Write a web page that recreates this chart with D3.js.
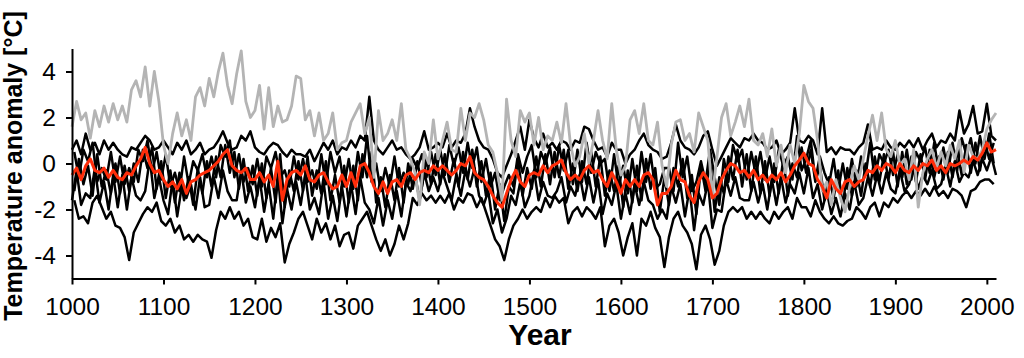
<!DOCTYPE html>
<html><head><meta charset="utf-8">
<script src="https://cdn.jsdelivr.net/npm/d3@7"></script>
<style>body{margin:0;background:#fff}svg{display:block}</style>
</head><body><svg id="c" width="1024" height="358"></svg>
<script>
// x categories: 5-year steps; two sampling grids (on the 5s and half-way between)
const yearsMain = d3.range(1000, 2011, 5);     // 1000 .. 2010
const yearsOffset = d3.range(1002.5, 2010, 5); // 1002.5 .. 2007.5
const yTicks = [-4, -2, 0, 2, 4];
const xTicks = [1000, 1100, 1200, 1300, 1400, 1500, 1600, 1700, 1800, 1900, 2000];

const grey = [
1.6,2.7,1.9,2.2,1.1,2.3,1.6,2.5,1.8,2.6,
1.9,2.5,1.8,3.2,3.6,2.9,4.2,2.5,4.0,2.7,
0.8,0.0,1.3,2.2,1.2,1.9,1.0,2.9,3.3,2.5,
3.7,2.9,4.0,4.8,3.4,2.6,3.9,4.9,2.7,2.0,
2.3,3.4,1.5,3.3,1.6,2.5,1.8,1.9,2.5,3.8,
3.7,1.9,2.3,1.2,2.2,1.0,1.3,2.2,0.6,0.9,
1.0,1.8,2.2,2.6,1.3,2.0,-0.6,2.3,1.0,1.3,
1.9,1.0,2.6,0.6,0.2,-0.4,-1.8,0.5,0.0,1.9,
0.2,1.0,1.8,0.6,0.5,2.4,1.0,2.2,2.0,2.6,
1.9,0.8,0.5,-0.4,-1.6,2.8,1.0,0.3,2.3,1.8,
2.2,0.8,2.0,0.6,1.2,1.0,1.8,0.9,2.6,0.8,
-0.1,0.3,1.3,0.0,1.0,2.3,1.0,0.2,2.6,0.6,
-0.5,-0.1,1.9,2.3,1.3,2.6,1.0,0.8,1.8,-0.1,
-1.0,0.8,1.8,1.9,1.0,1.3,0.5,2.2,1.6,1.0,
-1.4,0.3,2.0,2.6,1.2,1.8,2.5,1.6,2.8,1.0,
0.8,1.3,0.3,1.5,-0.1,0.8,-0.4,0.8,0.0,1.3,
3.4,2.7,2.4,1.0,-1.2,-0.8,-1.8,-0.7,-1.5,-2.1,
-1.0,-0.1,-0.7,0.2,1.2,2.1,1.0,2.2,0.6,0.3,
1.0,-0.1,0.2,-0.7,0.6,-1.9,-0.4,0.2,0.6,-0.2,
0.5,-0.1,0.8,0.2,1.0,-0.4,0.8,0.3,0.2,0.6,
1.5,1.9,2.2];

const red = [
-0.5,-0.2,-0.7,-0.1,0.2,-0.3,-0.4,-0.2,-0.6,-0.3,
-0.6,-0.7,-0.4,-0.5,-0.1,0.2,0.7,0.0,-0.4,-0.3,
-0.7,-1.0,-0.8,-1.1,-0.7,-1.3,-0.8,-0.7,-0.5,-0.4,
-0.3,-0.1,0.1,0.4,0.6,-0.1,-0.3,-0.4,-0.2,-0.7,
-0.7,-0.4,-0.8,-0.5,-1.0,0.1,-1.6,-0.7,-0.4,-0.3,
-0.5,-0.1,-0.7,-0.8,-0.5,-0.4,-0.8,-1.1,-1.0,-0.5,
-1.0,-0.4,-1.0,-0.1,0.0,-0.4,-1.0,-1.3,-0.8,-1.3,
-0.8,-0.7,-1.0,-0.5,-0.4,-0.7,-0.4,-0.3,-0.4,-0.1,
-0.3,-0.1,-0.3,-0.5,-0.3,0.0,-0.1,0.3,-0.4,-0.6,
-0.7,-1.0,-1.4,-1.7,-1.9,-1.3,-0.7,-0.3,-0.8,-1.0,
-0.5,-0.4,-0.5,-0.1,-0.4,-0.1,0.0,0.15,-0.4,-0.7,
-0.5,-0.7,-0.3,-0.1,-0.4,-0.3,-0.7,-1.0,-0.4,-0.8,
-1.3,-0.7,-1.0,-0.7,-1.0,-0.5,-0.4,-0.7,-1.8,-1.3,
-1.3,-1.0,-0.3,-0.7,-0.8,-1.4,-1.7,-0.8,-0.4,-0.7,
-1.5,-1.3,-0.7,-0.3,0.0,-0.1,-0.4,-0.3,-0.6,-0.3,
-0.7,-0.5,-0.8,-0.5,-0.7,-0.4,-0.8,-0.5,-0.1,0.15,
0.45,0.0,-0.1,-0.7,-1.0,-1.5,-0.7,-1.1,-1.3,-0.8,
-0.7,-1.0,-0.8,-0.7,-0.3,-0.4,-0.1,-0.3,0.0,-0.1,
-0.4,0.0,-0.3,-0.4,-0.1,-0.3,0.0,-0.1,0.15,-0.3,
-0.1,-0.4,0.0,-0.1,0.0,0.15,0.0,0.3,0.15,0.45,
0.9,0.5,0.6];

// upper black reconstruction (on yearsMain)
const black1 = [
0.6,1.0,0.4,1.3,0.6,0.9,0.4,1.0,0.6,0.9,
0.6,0.4,0.3,0.7,0.6,0.9,1.2,1.0,0.6,0.7,
1.0,0.7,0.4,0.9,0.6,1.0,0.4,0.6,0.9,0.4,
0.6,0.7,1.0,1.4,0.9,0.6,0.7,1.2,1.0,1.4,
0.7,0.5,0.4,0.7,0.9,0.8,0.5,0.3,0.6,0.4,
0.4,0.3,0.6,0.1,0.5,0.9,0.6,1.0,0.4,0.7,
0.6,1.0,0.7,1.2,1.0,2.9,1.0,0.6,0.4,0.7,
1.0,0.6,0.7,0.4,0.2,0.4,0.7,1.4,0.6,0.7,
0.9,0.7,1.3,0.7,1.0,0.9,1.3,2.4,1.6,1.0,
0.7,0.6,0.2,-0.4,-0.6,-0.1,0.4,1.0,1.6,0.6,
1.9,1.1,0.7,1.3,0.7,0.9,0.6,1.0,0.9,0.6,
1.0,0.9,1.6,1.5,1.0,0.6,0.7,0.3,0.9,0.6,
0.6,0.0,0.4,0.6,1.0,1.3,0.8,0.6,0.5,0.2,
0.3,0.9,1.7,1.0,0.7,0.6,0.4,0.7,1.2,1.4,
0.6,-0.1,0.3,0.7,1.1,0.9,0.7,1.1,1.0,1.3,
1.0,0.9,0.6,0.7,1.0,0.4,0.6,0.9,2.4,1.0,
0.9,1.2,1.0,0.4,2.4,0.5,0.7,0.4,0.7,0.6,
0.6,0.4,0.7,0.9,1.7,0.6,0.7,0.6,1.0,0.7,
0.6,0.9,0.7,1.0,0.7,1.1,0.6,1.0,1.3,0.7,
1.0,0.9,1.3,1.0,2.3,1.3,1.7,2.5,1.3,1.4,
2.6,1.2,1.0];

// upper-middle black reconstruction (on yearsOffset)
const black2 = [
0.5,-0.6,0.6,0.1,0.9,-0.8,-0.2,-0.7,0.5,-0.8,
0.3,-0.9,-0.2,-0.8,0.6,0.1,1.0,-0.4,0.5,-0.7,
0.4,-1.0,-0.4,-1.2,0.3,-0.9,0.1,-0.3,0.4,-0.6,
0.3,-0.6,0.8,0.3,1.0,-0.6,0.4,-0.8,-0.2,-0.9,
0.2,-1.0,0.3,-0.2,0.5,-0.6,-0.3,-1.0,0.3,-0.7,
0.2,-0.8,-0.3,-1.1,0.4,-0.9,0.5,-0.4,0.3,-1.0,
0.2,-1.1,0.5,-0.6,1.2,-0.8,0.0,-1.2,-0.2,-1.0,
0.3,-1.0,-0.4,-0.9,0.2,-0.2,0.4,-0.6,0.5,-0.5,
0.6,-0.5,0.8,-0.1,0.7,-0.4,0.9,-0.2,0.7,-0.8,
0.2,-1.0,-0.4,-1.6,-1.0,-0.5,-1.0,0.4,-0.4,0.3,
0.8,-0.6,0.5,0.0,0.7,-0.6,0.8,-0.3,0.6,-0.9,
0.6,-0.8,0.9,-0.4,0.5,0.0,0.2,-1.2,0.4,-1.0,
-0.1,-1.3,0.2,-1.2,0.5,-0.8,0.4,-1.1,-0.9,-0.2,
-0.2,-1.2,0.9,-0.6,0.3,-1.2,-0.8,0.1,-0.8,0.6,
-0.6,-1.8,0.2,-0.8,0.8,0.1,0.6,-0.7,0.5,-0.5,
0.5,-0.7,0.3,-0.8,0.6,-0.1,0.3,-0.7,1.2,-0.3,
0.2,1.0,-0.7,0.3,-0.4,-0.9,0.2,-1.2,0.0,-1.1,
0.2,-1.0,0.3,-0.5,0.9,-0.7,0.4,0.0,0.6,-0.5,
0.4,-0.6,0.6,-0.7,0.5,0.1,0.7,-0.4,0.9,-0.4,
0.7,-0.4,0.9,-0.3,1.1,0.4,1.1,0.0,1.2,0.2,
1.3,0.0];

// lower-middle black reconstruction (on yearsMain)
const black3 = [
-1.6,-0.3,-1.8,-1.3,-1.5,-0.2,-1.7,-0.8,-2.0,-0.5,
-1.9,-0.5,-2.0,-0.6,-1.4,-1.6,-1.2,0.2,-1.5,-0.6,
-1.6,-2.2,-0.7,-2.3,-1.0,-1.5,-0.9,-2.0,-0.6,-1.9,
-1.8,-0.6,-1.5,-0.3,-1.2,-1.6,-1.6,-0.3,-1.7,-1.0,
-1.9,-0.6,-2.1,-0.9,-2.4,-0.5,-2.6,-1.1,-2.0,-0.8,
-1.8,-0.5,-2.0,-1.5,-2.2,-0.8,-2.4,-1.4,-2.5,-1.0,
-2.3,-0.9,-2.2,-0.6,-1.7,-2.0,-2.6,-1.5,-2.7,-1.6,
-2.4,-1.2,-2.3,-0.8,-1.2,-0.5,-1.6,-0.4,-1.2,-0.6,
-1.2,-0.4,-1.0,-1.6,-0.5,-1.4,-0.3,-1.0,-0.2,-1.4,
-1.8,-1.2,-2.6,-2.0,-3.0,-2.4,-1.4,-1.8,-0.8,-1.9,
-1.4,-0.3,-1.6,-0.8,-1.4,-1.5,-1.2,-0.6,-1.7,-1.0,
-1.4,-0.5,-1.6,-0.6,-1.7,-0.7,-2.2,-1.3,-1.8,-0.9,
-2.4,-1.3,-2.2,-0.9,-1.8,-0.8,-1.6,-1.8,-2.4,-2.0,
-2.4,-1.0,-1.7,-0.9,-2.3,-1.1,-2.9,-1.3,-1.8,-0.8,
-2.8,-2.0,-2.1,-0.7,-1.4,-0.6,-1.5,-1.6,-1.6,-0.8,
-1.7,-0.9,-2.0,-0.7,-1.8,-0.6,-1.7,-0.9,-1.3,-0.4,
-1.3,-0.2,-1.5,-0.9,-2.0,-1.2,-2.2,-1.5,-2.3,-1.3,
-2.0,-0.8,-1.8,-1.5,-0.6,-1.4,-0.5,-1.3,-0.4,-1.1,
-1.3,-0.3,-1.2,-0.9,-0.2,-1.1,-0.5,-0.9,-0.3,-1.1,
-0.9,-0.1,-1.0,0.1,-0.8,-0.4,-0.6,0.1,-0.5,0.2,
-0.3,0.3,-0.5];

// lowest black reconstruction (on yearsOffset)
const black4 = [
-1.6,-2.4,-2.3,-2.6,-1.7,-1.4,-1.9,-2.4,-2.1,-2.7,
-2.8,-3.2,-4.2,-3.0,-2.6,-2.2,-1.9,-2.1,-1.7,-2.5,
-2.7,-2.4,-3.0,-2.7,-3.3,-3.1,-3.4,-3.1,-3.3,-3.4,
-4.1,-2.9,-2.1,-2.4,-1.9,-2.4,-2.1,-2.7,-2.4,-3.2,
-3.3,-2.4,-3.4,-2.8,-3.2,-2.6,-4.3,-3.5,-3.0,-2.4,
-2.1,-2.7,-3.3,-2.4,-3.0,-2.6,-3.3,-2.7,-3.6,-3.1,
-3.0,-3.7,-2.7,-2.4,-2.1,-2.7,-3.3,-3.8,-3.3,-4.0,
-3.5,-2.7,-3.3,-2.6,-1.5,-1.8,-1.3,-1.6,-1.4,-1.7,
-1.4,-1.7,-1.3,-2.0,-1.5,-1.7,-1.3,-1.4,-1.9,-1.5,
-2.1,-2.7,-3.3,-3.6,-4.2,-3.3,-2.7,-2.4,-2.0,-2.4,
-2.1,-1.9,-2.1,-1.5,-1.9,-1.4,-1.7,-1.5,-2.6,-2.1,
-1.9,-2.3,-1.9,-2.1,-2.4,-1.9,-3.6,-2.7,-2.4,-3.0,
-4.0,-3.2,-2.6,-4.0,-2.4,-2.7,-2.1,-2.8,-3.2,-4.5,
-3.2,-2.4,-2.1,-2.7,-3.0,-3.5,-4.6,-3.1,-2.7,-3.3,
-4.4,-3.8,-2.7,-2.1,-1.9,-2.1,-1.9,-2.4,-2.1,-2.4,
-2.1,-2.4,-2.6,-2.1,-2.4,-2.1,-1.9,-2.4,-1.5,-1.9,
-1.9,-2.3,-1.6,-2.1,-2.4,-2.6,-2.3,-2.6,-2.7,-2.5,
-2.4,-1.9,-2.1,-2.4,-1.9,-1.7,-2.3,-1.7,-1.9,-1.5,
-1.7,-1.4,-1.2,-1.5,-1.2,-1.4,-1.1,-1.4,-1.0,-1.4,
-1.2,-1.5,-1.1,-1.2,-1.4,-1.9,-1.2,-1.1,-0.8,-0.7,
-0.7,-0.9];

// central black reconstruction (on yearsOffset)
const black5 = [
-1.2,0.2,-0.9,-0.1,-1.4,0.4,-1.0,-0.3,-1.3,0.0,
-1.3,-0.1,-1.2,0.0,-0.8,0.6,-0.2,0.7,-1.1,0.1,
-1.5,-0.3,-1.7,-0.4,-1.6,-0.6,-1.8,-0.2,-1.3,0.1,
-1.0,0.3,-0.6,0.8,-0.4,0.5,-1.1,0.2,-1.2,-0.1,
-1.4,0.0,-1.5,-0.2,-1.7,0.4,-1.9,-0.3,-1.2,0.1,
-1.2,0.3,-1.4,-0.3,-1.3,0.1,-1.6,-0.5,-1.7,-0.1,
-1.7,-0.1,-1.6,0.4,-0.6,0.5,-1.7,-0.6,-1.9,-0.5,
-1.6,-0.2,-1.7,0.0,-1.1,0.1,-1.0,0.2,-0.9,0.4,
-0.9,0.4,-0.8,0.2,-1.0,0.5,-0.7,0.6,-1.0,0.1,
-1.4,-0.4,-2.0,-0.9,-2.5,-1.0,-1.3,0.2,-1.4,-0.2,
-1.1,0.3,-1.0,0.4,-0.9,0.5,-0.6,0.6,-1.1,0.0,
-1.2,0.1,-0.9,0.5,-1.0,0.3,-1.4,-0.3,-1.2,-0.1,
-1.9,-0.3,-1.7,-0.1,-1.6,0.2,-1.1,-0.2,-2.1,-0.6,
-1.8,-0.2,-1.0,0.2,-1.5,-0.5,-2.2,-0.1,-1.2,0.1,
-2.1,-0.6,-1.3,0.3,-0.7,0.6,-1.0,0.4,-1.2,0.3,
-1.3,0.1,-1.4,0.0,-1.3,0.2,-1.4,0.0,-0.6,0.7,
-0.4,0.6,-0.8,-0.1,-1.6,-0.6,-1.5,-0.3,-1.9,-0.2,
-1.4,-0.3,-1.4,0.0,-1.0,0.3,-0.8,0.4,-0.7,0.5,
-1.0,0.5,-0.9,0.3,-0.8,0.4,-0.7,0.6,-0.6,0.3,
-0.7,0.5,-0.6,0.6,-0.5,0.8,-0.4,0.9,-0.3,1.0,
0.2,0.9];

const svg = d3.select("#c");
const FONT = "'Liberation Sans', Arial, Helvetica, sans-serif";
const x = d3.scaleLinear().domain([1000, 2010]).range([72, 996]);
const y = d3.scaleLinear().domain([-5, 5]).range([278.5, 48.5]);

const series = [
  {v: black1, t: yearsMain, c: "#000", w: 2.5},
  {v: black4, t: yearsOffset, c: "#000", w: 2.5},
  {v: black2, t: yearsOffset, c: "#000", w: 2.5},
  {v: black3, t: yearsMain, c: "#000", w: 2.5},
  {v: black5, t: yearsOffset, c: "#000", w: 2.5},
  {v: grey, t: yearsMain, c: "#b4b4b4", w: 2.8},
  {v: red, t: yearsMain, c: "#ff2d0a", w: 3}
];
svg.append("g").selectAll("path").data(series).join("path")
  .attr("d", s => d3.line().x((d, i) => x(s.t[i])).y(d => y(d))(s.v))
  .attr("fill", "none")
  .attr("stroke", s => s.c)
  .attr("stroke-width", s => s.w)
  .attr("stroke-linejoin", "round");

// axes
const xAxis = svg.append("g").attr("transform", "translate(0,278.5)")
  .call(d3.axisBottom(x).tickValues(xTicks).tickFormat(d3.format("d")).tickSize(6).tickSizeOuter(0).tickPadding(13));
const yAxis = svg.append("g").attr("transform", "translate(72,0)")
  .call(d3.axisLeft(y).tickValues(yTicks).tickFormat(d => d).tickSize(6).tickSizeOuter(0).tickPadding(10));
[xAxis, yAxis].forEach(g => {
  g.select(".domain").attr("stroke", "#000").attr("stroke-width", 2);
  g.selectAll(".tick line").attr("stroke", "#000").attr("stroke-width", 2);
  g.selectAll(".tick text").attr("fill", "#000").style("font-family", FONT).style("font-size", "24.5px");
});
yAxis.selectAll(".tick text").text(d => d < 0 ? "-" + Math.abs(d) : d);

svg.append("text")
  .attr("transform", "translate(21.5,166) rotate(-90)")
  .attr("text-anchor", "middle")
  .style("font-family", FONT).style("font-weight", "bold").style("font-size", "25px")
  .text("Temperature anomaly [°C]");

svg.append("text")
  .attr("x", 540).attr("y", 345)
  .attr("text-anchor", "middle")
  .style("font-family", FONT).style("font-weight", "bold").style("font-size", "30px")
  .text("Year");
</script>
</body></html>
